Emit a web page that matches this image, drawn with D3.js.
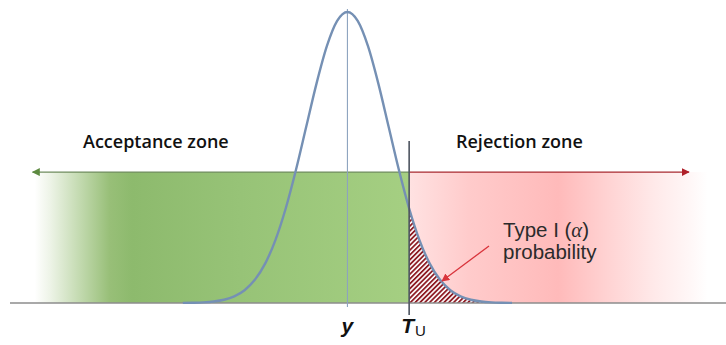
<!DOCTYPE html>
<html>
<head>
<meta charset="utf-8">
<script src="https://cdn.jsdelivr.net/npm/d3@7"></script>
<style>
  html, body { margin: 0; padding: 0; background: #fff; }
  svg { display: block; }
</style>
</head>
<body>
<script>
// standardized grid (z) and normal density (peak = 1)
var zGrid = [-4, -3.75, -3.5, -3.25, -3, -2.75, -2.5, -2.25, -2, -1.75, -1.5, -1.25, -1, -0.75, -0.5, -0.25,
             0, 0.25, 0.5, 0.75, 1, 1.25, 1.5, 1.75, 2, 2.25, 2.5, 2.75, 3, 3.25, 3.5, 3.75, 4];
var density = [0.0003, 0.0009, 0.0022, 0.0051, 0.0111, 0.0228, 0.0439, 0.0796, 0.1353, 0.2163, 0.3247, 0.4578, 0.6065, 0.7548, 0.8825, 0.9692,
               1, 0.9692, 0.8825, 0.7548, 0.6065, 0.4578, 0.3247, 0.2163, 0.1353, 0.0796, 0.0439, 0.0228, 0.0111, 0.0051, 0.0022, 0.0009, 0.0003];

var meanZ = 0;       // y
var upperT = 1.5;    // T_U
var acceptZone = [-7.6, upperT];
var rejectZone = [upperT, 8.75];
var zoneNames = ["Acceptance zone", "Rejection zone"];
var tailNote = ["Type I (", "α", ")", "probability"];

var width = 726, height = 345;

var x = d3.scaleLinear().domain([-8.2, 9.2]).range([10, 726]);
var y = d3.scaleLinear().domain([0, 1]).range([303, 12]);

var points = zGrid.map(function (z, i) { return { z: z, d: density[i] }; });

var svg = d3.select("body").append("svg")
  .attr("width", width)
  .attr("height", height);

var defs = svg.append("defs");

// green fades to white on the left
var gGreen = defs.append("linearGradient")
  .attr("id", "greenFade")
  .attr("gradientUnits", "userSpaceOnUse")
  .attr("x1", x(acceptZone[0])).attr("x2", x(acceptZone[1]))
  .attr("y1", 0).attr("y2", 0);
[[0, "#ffffff"], [0.04, "#eef4e8"], [0.12, "#c3dab0"], [0.2, "#98bf78"], [0.26, "#8dba6d"],
 [0.55, "#97c377"], [1, "#a5cf82"]].forEach(function (s) {
  gGreen.append("stop").attr("offset", s[0]).attr("stop-color", s[1]);
});

// red fades to white on the right
var gRed = defs.append("linearGradient")
  .attr("id", "redFade")
  .attr("gradientUnits", "userSpaceOnUse")
  .attr("x1", x(rejectZone[0])).attr("x2", x(rejectZone[1]))
  .attr("y1", 0).attr("y2", 0);
[[0, "#ffe2e2"], [0.2, "#ffcbcb"], [0.5, "#ffbaba"], [0.66, "#ffd2d2"], [0.82, "#ffe9e9"],
 [0.95, "#fff8f8"], [1, "#ffffff"]].forEach(function (s) {
  gRed.append("stop").attr("offset", s[0]).attr("stop-color", s[1]);
});

// hatch for the alpha tail
var hatch = defs.append("pattern")
  .attr("id", "hatch")
  .attr("patternUnits", "userSpaceOnUse")
  .attr("width", 3.4).attr("height", 3.4)
  .attr("patternTransform", "rotate(45)");
hatch.append("rect").attr("width", 3.4).attr("height", 3.4).attr("fill", "#ffffff");
hatch.append("line").attr("x1", 0.9).attr("y1", 0).attr("x2", 0.9).attr("y2", 3.4)
  .attr("stroke", "#8e1c24").attr("stroke-width", 1.8);

function marker(id, color) {
  defs.append("marker")
    .attr("id", id)
    .attr("viewBox", "0 0 10 10")
    .attr("refX", 9).attr("refY", 5)
    .attr("markerWidth", 8).attr("markerHeight", 8)
    .attr("markerUnits", "userSpaceOnUse")
    .attr("orient", "auto")
    .append("path").attr("d", "M0,0L10,5L0,10Z").attr("fill", color);
}
marker("arrGreen", "#5d8a40");
marker("arrRed", "#b0202a");
marker("arrNote", "#d9343c");

var zoneTop = y(0.45);

// zones
svg.append("rect")
  .attr("x", x(acceptZone[0])).attr("y", zoneTop)
  .attr("width", x(acceptZone[1]) - x(acceptZone[0]))
  .attr("height", y(0) - zoneTop)
  .attr("fill", "url(#greenFade)");

svg.append("rect")
  .attr("x", x(rejectZone[0])).attr("y", zoneTop)
  .attr("width", x(rejectZone[1]) - x(rejectZone[0]))
  .attr("height", y(0) - zoneTop)
  .attr("fill", "url(#redFade)");

// zone arrows
svg.append("line")
  .attr("x1", x(upperT)).attr("x2", x(-7.65))
  .attr("y1", zoneTop).attr("y2", zoneTop)
  .attr("stroke", "#6f8c5e").attr("stroke-width", 1.3)
  .attr("marker-end", "url(#arrGreen)");

svg.append("line")
  .attr("x1", x(upperT)).attr("x2", x(8.3))
  .attr("y1", zoneTop).attr("y2", zoneTop)
  .attr("stroke", "#a82a30").attr("stroke-width", 1.3)
  .attr("marker-end", "url(#arrRed)");

// hatched tail area
var tail = points.filter(function (p) { return p.z >= upperT; });
svg.append("path")
  .datum(tail)
  .attr("d", d3.area()
    .x(function (p) { return x(p.z); })
    .y0(y(0))
    .y1(function (p) { return y(p.d); })
    .curve(d3.curveMonotoneX))
  .attr("fill", "url(#hatch)");

// baseline
svg.append("line")
  .attr("x1", 10).attr("x2", width)
  .attr("y1", y(0)).attr("y2", y(0))
  .attr("stroke", "#8c8c8c").attr("stroke-width", 1.5);

// mean line
svg.append("line")
  .attr("x1", x(meanZ)).attr("x2", x(meanZ))
  .attr("y1", y(1.01)).attr("y2", y(-0.014))
  .attr("stroke", "#8ca3bf").attr("stroke-width", 1.1);

// density curve
svg.append("path")
  .datum(points)
  .attr("d", d3.line()
    .x(function (p) { return x(p.z); })
    .y(function (p) { return y(p.d); })
    .curve(d3.curveMonotoneX))
  .attr("fill", "none")
  .attr("stroke", "#7590b4")
  .attr("stroke-width", 2.4);

// T_U line
svg.append("line")
  .attr("x1", x(upperT)).attr("x2", x(upperT))
  .attr("y1", y(0.557)).attr("y2", y(-0.041))
  .attr("stroke", "#4e5560").attr("stroke-width", 1.6);

// zone titles
svg.append("text")
  .attr("x", 83).attr("y", 148)
  .attr("font-family", "'Open Sans', sans-serif")
  .attr("font-weight", 600)
  .attr("font-size", 18)
  .attr("fill", "#111")
  .text(zoneNames[0]);

svg.append("text")
  .attr("x", 456).attr("y", 148)
  .attr("font-family", "'Open Sans', sans-serif")
  .attr("font-weight", 600)
  .attr("font-size", 18)
  .attr("fill", "#111")
  .text(zoneNames[1]);

// type I note
var note = svg.append("text")
  .attr("x", 503).attr("y", 237)
  .attr("font-family", "'Liberation Sans', Arial, sans-serif")
  .attr("font-size", 20.5)
  .attr("fill", "#2b2b2b");
note.append("tspan").text(tailNote[0]);
note.append("tspan").attr("font-family", "'Liberation Serif', serif").attr("font-style", "italic").text(tailNote[1]);
note.append("tspan").text(tailNote[2]);

svg.append("text")
  .attr("x", 503).attr("y", 259)
  .attr("font-family", "'Liberation Sans', Arial, sans-serif")
  .attr("font-size", 20.5)
  .attr("fill", "#2b2b2b")
  .text(tailNote[3]);

svg.append("line")
  .attr("x1", 489).attr("y1", 246)
  .attr("x2", 442).attr("y2", 281)
  .attr("stroke", "#d9343c").attr("stroke-width", 1.3)
  .attr("marker-end", "url(#arrNote)");

// axis labels
svg.append("text")
  .attr("x", x(meanZ)).attr("y", 333)
  .attr("text-anchor", "middle")
  .attr("font-family", "'Liberation Sans', Arial, sans-serif")
  .attr("font-weight", "bold")
  .attr("font-style", "italic")
  .attr("font-size", 21)
  .attr("fill", "#111")
  .text("y");

var tl = svg.append("text")
  .attr("x", x(upperT) - 8).attr("y", 333)
  .attr("font-family", "'Liberation Sans', Arial, sans-serif")
  .attr("font-size", 21)
  .attr("fill", "#111");
tl.append("tspan").attr("font-weight", "bold").attr("font-style", "italic").text("T");
tl.append("tspan").attr("font-size", 15).attr("dy", 3).attr("dx", 1).text("U");
</script>
</body>
</html>
